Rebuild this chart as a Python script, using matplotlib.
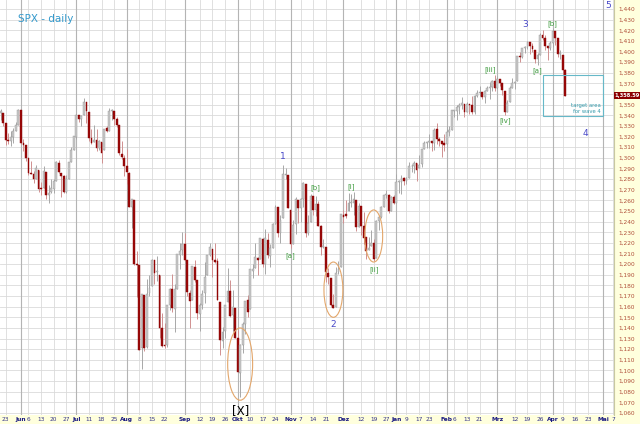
import matplotlib
matplotlib.use("Agg")
import matplotlib.pyplot as plt
from matplotlib.patches import Ellipse, Rectangle
import numpy as np
import pandas as pd

# trading days 2011-05-19 .. 2012-04-10 (US market holidays removed)
holidays = ["2011-05-30", "2011-07-04", "2011-09-05", "2011-11-24", "2011-12-26",
            "2012-01-02", "2012-01-16", "2012-02-20", "2012-04-06", "2012-05-28"]

opens = [1342, 1342, 1333, 1317, 1316, 1320, 1325, 1331,
         1345, 1314, 1312, 1300, 1286, 1285, 1280, 1289, 1272, 1272, 1287, 1265, 1268,
         1271, 1278, 1295, 1286, 1283, 1268, 1280, 1296, 1307,
         1320, 1340, 1337, 1340, 1353, 1343, 1319, 1315, 1317, 1309, 1315, 1307, 1328,
         1325, 1344, 1344, 1337, 1331, 1304, 1300,
         1292, 1286, 1254, 1260, 1200, 1199, 1121, 1171, 1122, 1173, 1179, 1204, 1193,
         1190, 1140, 1124, 1124, 1162, 1177, 1158, 1177, 1209, 1213,
         1219, 1204, 1173, 1166, 1197, 1185, 1153, 1162, 1173, 1190, 1209, 1214, 1204,
         1203, 1164, 1128, 1137, 1164, 1175, 1152, 1159,
         1131, 1098, 1124, 1144, 1166, 1158, 1194, 1196, 1206, 1205, 1224, 1200, 1223,
         1208, 1215, 1238, 1254, 1229, 1243, 1284, 1284,
         1251, 1219, 1238, 1260, 1253, 1261, 1275, 1229, 1240, 1264, 1251, 1257, 1236,
         1216, 1216, 1192, 1187, 1162, 1160, 1193, 1197,
         1246, 1247, 1250, 1258, 1258, 1260, 1235, 1255, 1236, 1226, 1213, 1217, 1220,
         1206, 1241, 1244, 1254, 1265, 1265, 1250, 1263,
         1258, 1277, 1277, 1281, 1278, 1281, 1292, 1292, 1295, 1290, 1294, 1308, 1314,
         1315, 1316, 1314, 1327, 1318, 1316, 1314,
         1313, 1324, 1326, 1344, 1344, 1348, 1350, 1351, 1343, 1351, 1350, 1343, 1358,
         1361, 1362, 1357, 1363, 1366, 1367, 1372,
         1366, 1374, 1370, 1363, 1343, 1353, 1366, 1370, 1372, 1396, 1395, 1403, 1404,
         1409, 1405, 1401, 1393, 1397, 1416, 1413, 1405, 1403,
         1408, 1419, 1413, 1398, 1397, 1383]
highs = [1346, 1342, 1333, 1323, 1325, 1328, 1334, 1346,
         1345, 1318, 1312, 1300, 1297, 1288, 1293, 1289, 1277, 1292, 1287, 1274, 1280,
         1280, 1297, 1298, 1286, 1284, 1284, 1296, 1310, 1321,
         1341, 1340, 1340, 1356, 1353, 1343, 1327, 1331, 1327, 1317, 1315, 1327, 1330,
         1347, 1346, 1344, 1338, 1331, 1316, 1303,
         1308, 1287, 1261, 1260, 1212, 1199, 1172, 1171, 1186, 1190, 1205, 1204, 1208,
         1190, 1154, 1145, 1162, 1178, 1191, 1181, 1210, 1220, 1230,
         1229, 1204, 1176, 1198, 1204, 1185, 1163, 1176, 1202, 1209, 1220, 1214, 1220,
         1206, 1164, 1141, 1162, 1196, 1185, 1176, 1159,
         1138, 1125, 1146, 1165, 1171, 1195, 1200, 1220, 1207, 1224, 1225, 1233, 1229,
         1219, 1239, 1256, 1254, 1246, 1293, 1290, 1284,
         1251, 1242, 1263, 1260, 1262, 1277, 1275, 1246, 1266, 1264, 1264, 1259, 1237,
         1224, 1216, 1196, 1187, 1172, 1197, 1203, 1247,
         1251, 1260, 1267, 1266, 1268, 1260, 1258, 1255, 1249, 1226, 1226, 1232, 1224,
         1242, 1245, 1255, 1265, 1270, 1266, 1264, 1265,
         1285, 1279, 1284, 1282, 1282, 1296, 1294, 1297, 1295, 1303, 1308, 1316, 1315,
         1322, 1316, 1328, 1333, 1320, 1316, 1322,
         1330, 1330, 1345, 1345, 1350, 1352, 1357, 1351, 1353, 1351, 1358, 1359, 1364,
         1368, 1362, 1364, 1368, 1371, 1373, 1378,
         1377, 1374, 1370, 1363, 1354, 1368, 1375, 1372, 1396, 1400, 1403, 1405, 1410,
         1409, 1408, 1401, 1399, 1417, 1420, 1416, 1405, 1410,
         1422, 1419, 1413, 1401, 1397, 1384]
lows = [1336, 1330, 1312, 1313, 1311, 1314, 1325, 1331,
        1313, 1306, 1297, 1284, 1285, 1276, 1280, 1268, 1265, 1272, 1261, 1258, 1267,
        1267, 1278, 1286, 1263, 1267, 1267, 1280, 1296, 1307,
        1318, 1334, 1330, 1340, 1333, 1316, 1313, 1315, 1306, 1307, 1295, 1307, 1324,
        1325, 1336, 1331, 1329, 1303, 1299, 1283,
        1275, 1254, 1234, 1199, 1169, 1119, 1101, 1118, 1121, 1170, 1179, 1181, 1184,
        1131, 1122, 1121, 1122, 1157, 1155, 1136, 1177, 1195, 1209,
        1203, 1170, 1140, 1166, 1183, 1148, 1137, 1158, 1163, 1190, 1208, 1188, 1201,
        1166, 1115, 1121, 1131, 1164, 1150, 1137, 1131,
        1099, 1075, 1116, 1134, 1150, 1158, 1187, 1196, 1190, 1205, 1197, 1191, 1206,
        1197, 1215, 1238, 1226, 1220, 1243, 1280, 1253,
        1215, 1219, 1228, 1239, 1240, 1254, 1226, 1227, 1240, 1246, 1245, 1236, 1209,
        1215, 1183, 1181, 1161, 1159, 1160, 1191, 1197,
        1239, 1243, 1250, 1254, 1246, 1231, 1235, 1227, 1219, 1205, 1213, 1217, 1203,
        1206, 1232, 1243, 1254, 1262, 1248, 1250, 1257,
        1258, 1267, 1266, 1274, 1275, 1281, 1287, 1286, 1278, 1290, 1291, 1308, 1309,
        1309, 1306, 1307, 1313, 1311, 1301, 1306,
        1313, 1321, 1326, 1338, 1336, 1341, 1346, 1338, 1343, 1341, 1341, 1341, 1357,
        1358, 1355, 1352, 1363, 1355, 1363, 1363,
        1366, 1368, 1359, 1340, 1343, 1353, 1366, 1365, 1372, 1390, 1394, 1399, 1402,
        1398, 1400, 1389, 1387, 1397, 1411, 1401, 1392, 1401,
        1404, 1406, 1395, 1393, 1378, 1358]
closes = [1344, 1333, 1317, 1316, 1320, 1325, 1331, 1345,
          1314, 1312, 1300, 1286, 1285, 1280, 1290, 1271, 1271, 1288, 1265, 1267, 1272,
          1278, 1296, 1287, 1283, 1268, 1280, 1296, 1307, 1321,
          1340, 1337, 1339, 1353, 1344, 1319, 1314, 1317, 1309, 1316, 1305, 1327, 1325,
          1344, 1345, 1337, 1331, 1305, 1301, 1292,
          1287, 1254, 1261, 1200, 1199, 1119, 1172, 1121, 1172, 1178, 1204, 1192, 1193,
          1140, 1123, 1123, 1162, 1177, 1159, 1177, 1210, 1212, 1219,
          1204, 1174, 1165, 1198, 1185, 1154, 1162, 1172, 1188, 1209, 1216, 1204, 1202,
          1166, 1129, 1136, 1162, 1175, 1151, 1160, 1131,
          1099, 1124, 1144, 1165, 1155, 1195, 1195, 1207, 1204, 1225, 1200, 1225, 1209,
          1215, 1238, 1254, 1229, 1242, 1285, 1285, 1253,
          1219, 1237, 1261, 1253, 1261, 1276, 1229, 1239, 1264, 1251, 1257, 1236, 1216,
          1216, 1193, 1188, 1162, 1159, 1192, 1195, 1247,
          1244, 1245, 1258, 1258, 1261, 1235, 1255, 1236, 1225, 1212, 1215, 1220, 1205,
          1241, 1244, 1254, 1265, 1265, 1250, 1263, 1258,
          1277, 1277, 1281, 1278, 1281, 1292, 1292, 1295, 1289, 1293, 1308, 1314, 1315,
          1316, 1314, 1326, 1318, 1316, 1313, 1312,
          1324, 1326, 1345, 1344, 1348, 1350, 1352, 1343, 1351, 1350, 1343, 1358, 1361,
          1362, 1357, 1363, 1366, 1367, 1372, 1366,
          1374, 1370, 1364, 1343, 1352, 1366, 1370, 1371, 1396, 1395, 1403, 1404, 1409,
          1405, 1402, 1393, 1397, 1416, 1413, 1405, 1403, 1408,
          1419, 1413, 1398, 1398, 1383, 1358.59]

last_price = 1358.59

# wave labels: (text, date, price)
wave_nums = [("1", "2011-10-27", 1301), ("2", "2011-11-25", 1143), ("3", "2012-03-16", 1425),
             ("4", "2012-04-20", 1323), ("5", "2012-05-03", 1443)]
wave_subs = [("[a]", "2011-11-01", 1208), ("[b]", "2011-11-15", 1272), ("[i]", "2011-12-06", 1273),
             ("[ii]", "2011-12-19", 1195), ("[iii]", "2012-02-27", 1383), ("[iv]", "2012-03-06", 1335),
             ("[a]", "2012-03-23", 1382), ("[b]", "2012-04-02", 1426)]

month_names = {1: "Jan", 2: "Feb", 3: "Mrz", 4: "Apr", 5: "Mai", 6: "Jun", 7: "Jul",
               8: "Aug", 9: "Sep", 10: "Okt", 11: "Nov", 12: "Dez"}

# ---------------------------------------------------------------
all_days = pd.bdate_range("2011-05-19", "2012-05-10")
all_days = all_days[~all_days.isin(pd.to_datetime(holidays))]
idx_of = {d: i for i, d in enumerate(all_days)}
n = len(closes)
x = np.arange(n)

def xi(datestr):
    return idx_of[pd.Timestamp(datestr)]

# date ticks: first trading day of month + first trading day of each week
tick_pos, tick_lab, tick_month = [], [], []
prev_month = None
for i, d in enumerate(all_days):
    if d.month != prev_month:
        if tick_pos and i - tick_pos[-1] < 4:
            tick_pos.pop(); tick_lab.pop(); tick_month.pop()
        tick_pos.append(i); tick_lab.append(month_names[d.month]); tick_month.append(True)
        prev_month = d.month
        continue
    prev = all_days[i - 1]
    if d.weekday() < prev.weekday() or (d - prev).days > 3:
        if not tick_pos or i - tick_pos[-1] >= 3:
            tick_pos.append(i); tick_lab.append(str(d.day)); tick_month.append(False)
# the first one on the chart is May 23
tick_pos[0], tick_lab[0], tick_month[0] = xi("2011-05-23"), "23", False

fig = plt.figure(figsize=(6.4, 4.24), dpi=100, facecolor="#FFFFDD")
ax = fig.add_axes([0, 9 / 424, 614 / 640, 415 / 424])
ax.set_facecolor("white")

px_per_day = 2.52
x_left = -0.3
ax.set_xlim(x_left, x_left + 614 / px_per_day)
ax.set_ylim(1058.1, 1448.5)

# grid
for p in range(1060, 1450, 10):
    ax.axhline(p, color="#DADADA", lw=0.6, zorder=0)
for tp, tm in zip(tick_pos, tick_month):
    ax.axvline(tp, color="#B4B4B4" if tm else "#DADADA", lw=0.8 if tm else 0.6, zorder=0)

# candles
up = np.array(closes) >= np.array(opens)
wick_col = np.where(up, "#A8A8A8", "#D09090")
body_col = np.where(up, "#C8C8C8", "#9A0A0A")
edge_col = np.where(up, "#989898", "#8A0000")
ax.vlines(x, lows, highs, colors=wick_col, lw=0.7, zorder=2)
bottoms = np.minimum(opens, closes)
heights = np.maximum(np.abs(np.array(closes) - np.array(opens)), 0.8)
ax.bar(x, heights, bottom=bottoms, width=0.72, color=body_col, edgecolor=edge_col,
       linewidth=0.3, zorder=3)

# annotations
ax.text(18 / 614, 1 - 19 / 415, "SPX - daily", transform=ax.transAxes, color="#3399CC",
        fontsize=7.5, ha="left", va="center")
for t, d, p in wave_nums:
    ax.text(xi(d), p, t, color="#4848C8", fontsize=6.5, ha="center", va="center")
for t, d, p in wave_subs:
    ax.text(xi(d), p, t, color="#3C9A3C", fontsize=5, ha="center", va="center")
ax.text(xi("2011-10-04"), 1062, "[X]", color="black", fontsize=8.5, ha="center", va="center")

ell_color = "#E3A66A"
for d, p, w, h in [("2011-10-04", 1106, 9.9, 68), ("2011-11-25", 1176, 7.5, 52),
                   ("2011-12-19", 1226.5, 7.1, 49)]:
    ax.add_patch(Ellipse((xi(d), p), w, h, fill=False, edgecolor=ell_color, lw=0.8, zorder=4))

rx0 = xi("2012-03-27")
ax.add_patch(Rectangle((rx0, 1339), xi("2012-05-01") - rx0, 1378 - 1339, fill=False,
                       edgecolor="#66B8C8", lw=0.8, zorder=4))
ax.text(xi("2012-04-30"), 1346.5, "target area\nfor wave 4", color="#3399AA", fontsize=3.8,
        ha="right", va="center", linespacing=1.3)

# axes and labels
for s in ax.spines.values():
    s.set_visible(False)
ax.axvline(ax.get_xlim()[1], color="#C8C8A0", lw=0.8, clip_on=False)

ax.yaxis.tick_right()
yt = list(range(1060, 1450, 10))
ax.set_yticks(yt)
# the 1,360 label sits under the last-price box
ax.set_yticklabels(["" if v == 1360 else f"{v:,}" for v in yt])
ax.tick_params(axis="y", length=0, pad=3, labelsize=4.2, labelcolor="#B0503A")

ax.set_xticks(tick_pos)
ax.set_xticklabels(tick_lab)
ax.tick_params(axis="x", length=0, pad=1.5, labelsize=4.2, labelcolor="#333388")
for lab, tm in zip(ax.get_xticklabels(), tick_month):
    if tm:
        lab.set_fontweight("bold")
        lab.set_color("#1A1A80")

ax.text(1.001, last_price, f"{last_price:,.2f}", transform=ax.get_yaxis_transform(),
        color="white", fontsize=3.7, fontweight="bold", ha="left", va="center",
        bbox=dict(boxstyle="square,pad=0.2", facecolor="#8B0000", edgecolor="none"),
        clip_on=False)

fig.savefig("out.png", dpi=100, facecolor=fig.get_facecolor())
